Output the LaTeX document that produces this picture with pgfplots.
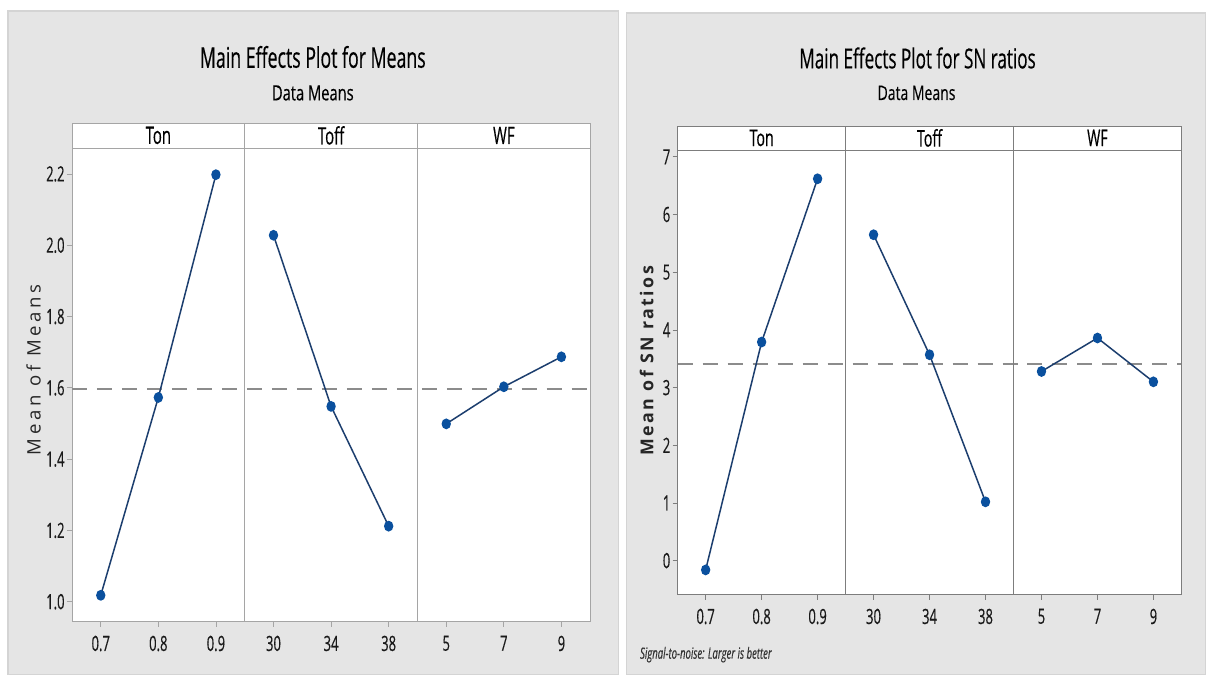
\documentclass[border=0pt]{standalone}
\usepackage{pgfplots}
\pgfplotsset{compat=1.18}
\usepackage{fontspec}
\setmainfont{Open Sans}
\newfontfamily\cond[FakeStretch=0.62,FakeBold=0.3]{Open Sans}
\newfontfamily\condsub[FakeStretch=0.7,FakeBold=0.3]{Open Sans}
\newfontfamily\ylabfont[LetterSpace=20]{Open Sans}
\newfontfamily\ylabfontb[LetterSpace=14]{Open Sans}
\definecolor{panel}{RGB}{229,229,229}
\definecolor{panelborder}{RGB}{212,212,212}
\definecolor{frameL}{RGB}{165,165,165}
\definecolor{frameR}{RGB}{125,125,125}
\definecolor{mk}{RGB}{10,80,158}
\definecolor{ln}{RGB}{28,62,110}
\definecolor{dashc}{RGB}{140,140,140}
\pgfplotsset{
  facet/.style={
    scale only axis,
    axis background/.style={fill=white},
    xmin=-0.5, xmax=8.5,
    xtick={0,...,8},
    xticklabels={0.7,0.8,0.9,30,34,38,5,7,9},
    tick align=outside, tick pos=left,
    major tick length=2.5pt,
    clip=false,
    /pgf/number format/assume math mode=true,
    tick label style={font=\cond\fontsize{10.5}{11}\selectfont, text=black!90},
    x tick label style={yshift=-1pt},
    y tick label style={inner sep=1pt},
  },
  series/.style={color=ln, line width=0.75pt, mark=*, mark size=2.3pt,
    mark options={fill=mk, draw=mk, xscale=0.85}},
  meanline/.style={dashc, line width=0.9pt, dash pattern=on 7.5pt off 5pt},
}
\begin{document}
\begin{tikzpicture}
% canvas
\fill[white] (0,0) rectangle (603pt,337.5pt);
\filldraw[fill=panel, draw=panelborder, line width=0.6pt] (4pt,0pt) rectangle (309.5pt,332pt);
\filldraw[fill=panel, draw=panelborder, line width=0.6pt] (313.5pt,0pt) rectangle (603pt,331pt);
% titles
\node[font=\cond\fontsize{14.3}{15}\selectfont] at (156.5pt,309pt) {Main Effects Plot for Means};
\node[font=\condsub\fontsize{10.5}{11}\selectfont] at (156.5pt,291pt) {Data Means};
\node[font=\cond\fontsize{13.8}{15}\selectfont] at (459pt,308.5pt) {Main Effects Plot for SN ratios};
\node[font=\condsub\fontsize{10}{11}\selectfont] at (458.5pt,291pt) {Data Means};
% left chart
\begin{axis}[facet, at={(36pt,26.5pt)}, anchor=south west,
  width=259.25pt, height=237pt,
  ymin=0.944, ymax=2.273,
  ytick={1.0,1.2,1.4,1.6,1.8,2.0,2.2},
  yticklabel style={/pgf/number format/.cd, fixed, fixed zerofill, precision=1},
  axis line style={frameL}, every tick/.style={frameL},
]
\addplot[meanline] coordinates {(-0.5,1.597) (8.5,1.597)};
\addplot[series] coordinates {(0,1.018) (1,1.573) (2,2.198)};
\addplot[series] coordinates {(3,2.028) (4,1.548) (5,1.212)};
\addplot[series] coordinates {(6,1.499) (7,1.603) (8,1.687)};
\draw[frameL, fill=white] (rel axis cs:0,1) rectangle ([yshift=12.5pt]rel axis cs:1,1);
\draw[frameL] (rel axis cs:0.33333,0) -- ([yshift=12.5pt]rel axis cs:0.33333,1);
\draw[frameL] (rel axis cs:0.66667,0) -- ([yshift=12.5pt]rel axis cs:0.66667,1);
\node[font=\cond\fontsize{12}{12}\selectfont] at ([yshift=6.25pt]rel axis cs:0.16667,1) {Ton};
\node[font=\cond\fontsize{12}{12}\selectfont] at ([yshift=6.25pt]rel axis cs:0.5,1) {Toff};
\node[font=\cond\fontsize{12}{12}\selectfont] at ([yshift=6.25pt]rel axis cs:0.83333,1) {WF};
\end{axis}
\node[rotate=90, font=\ylabfont\fontsize{9.3}{10}\selectfont, text=black!85] at (16.75pt,152.5pt) {Mean of Means};
% right chart
\begin{axis}[facet, at={(339pt,40pt)}, anchor=south west,
  width=252pt, height=222.5pt,
  ymin=-0.59, ymax=7.12,
  ytick={0,1,2,3,4,5,6,7},
  axis line style={frameR}, every tick/.style={frameR},
]
\addplot[meanline] coordinates {(-0.5,3.415) (8.5,3.415)};
\addplot[series] coordinates {(0,-0.16) (1,3.79) (2,6.62)};
\addplot[series] coordinates {(3,5.65) (4,3.57) (5,1.02)};
\addplot[series] coordinates {(6,3.28) (7,3.86) (8,3.10)};
\draw[frameR, fill=white] (rel axis cs:0,1) rectangle ([yshift=12pt]rel axis cs:1,1);
\draw[frameR] (rel axis cs:0.33333,0) -- ([yshift=12pt]rel axis cs:0.33333,1);
\draw[frameR] (rel axis cs:0.66667,0) -- ([yshift=12pt]rel axis cs:0.66667,1);
\node[font=\cond\fontsize{11.5}{12}\selectfont] at ([yshift=6pt]rel axis cs:0.16667,1) {Ton};
\node[font=\cond\fontsize{11.5}{12}\selectfont] at ([yshift=6pt]rel axis cs:0.5,1) {Toff};
\node[font=\cond\fontsize{11.5}{12}\selectfont] at ([yshift=6pt]rel axis cs:0.83333,1) {WF};
\end{axis}
\node[rotate=90, font=\ylabfontb\bfseries\fontsize{8.9}{10}\selectfont, text=black!85] at (323.5pt,157pt) {Mean of SN ratios};
\node[anchor=west, font=\cond\itshape\fontsize{7.7}{8}\selectfont, text=black!80, inner sep=0pt] at (320pt,10pt) {Signal-to-noise: Larger is better};
\end{tikzpicture}
\end{document}
